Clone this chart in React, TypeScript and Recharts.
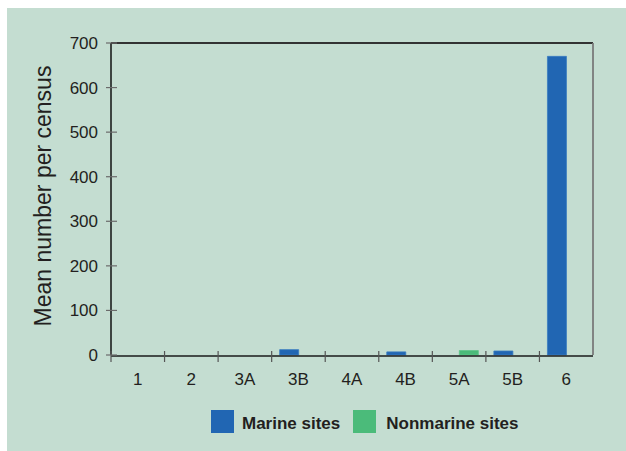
import React from 'react';
import { BarChart, Bar, XAxis, YAxis, Legend } from 'recharts';

const categories = ['1', '2', '3A', '3B', '4A', '4B', '5A', '5B', '6'];
const marineSites = [0, 0, 0, 12, 0, 7, 0, 9, 670];
const nonmarineSites = [0, 0, 0, 0, 0, 0, 10, 0, 0];
const yTicks = [0, 100, 200, 300, 400, 500, 600, 700];

const data = categories.map((cat, i) => ({
  cat,
  marine: marineSites[i],
  nonmarine: nonmarineSites[i],
}));

const FONT = '"Liberation Sans", Arial, Helvetica, sans-serif';
const TEXT = '#231f20';
const BLUE = '#2166b3';
const GREEN = '#4bbb7a';
const BG = '#c4ddd1';

const YTick = (props: any) => {
  const { x, y, payload } = props;
  return (
    <g>
      <line x1={x - 5} x2={x + 6} y1={y} y2={y} stroke="#6b6b6b" strokeWidth={1.2} />
      <text x={x - 13} y={y} dy="0.35em" textAnchor="end" fontSize={17} fontFamily={FONT} fill={TEXT}>
        {payload.value}
      </text>
    </g>
  );
};

// draws the tick mark on the left boundary of each category band
const BoundTick = (props: any) => {
  const { x, y, payload } = props;
  const half = payload && payload.offset ? payload.offset : 0;
  return <line x1={x - half} x2={x - half} y1={y - 5} y2={y + 6} stroke="#555" strokeWidth={1.2} />;
};

const XLabelTick = (props: any) => {
  const { x, y, payload } = props;
  return (
    <text x={x} y={y} dy={30} textAnchor="middle" fontSize={17} fontFamily={FONT} fill={TEXT}>
      {payload.value}
    </text>
  );
};

const YLabel = (props: any) => {
  const { viewBox } = props;
  const cx = 51;
  const cy = viewBox.y + viewBox.height / 2 - 3;
  return (
    <text
      x={cx}
      y={cy}
      textAnchor="middle"
      transform={`rotate(-90 ${cx} ${cy})`}
      fontSize={23}
      fontFamily={FONT}
      fill={TEXT}
    >
      Mean number per census
    </text>
  );
};

const LegendContent = () => (
  <div style={{ display: 'flex', alignItems: 'center', fontFamily: FONT, fontWeight: 700, fontSize: 17, color: TEXT, whiteSpace: 'nowrap' }}>
    <div style={{ width: 23, height: 23, background: BLUE }} />
    <span style={{ marginLeft: 8, position: 'relative', top: 2 }}>Marine sites</span>
    <div style={{ width: 23, height: 23, background: GREEN, marginLeft: 13 }} />
    <span style={{ marginLeft: 10, position: 'relative', top: 2 }}>Nonmarine sites</span>
  </div>
);

export default function App() {
  return (
    <div style={{ position: 'absolute', left: 0, top: 0, width: 626, height: 451, background: '#fff' }}>
      <div style={{ position: 'absolute', left: 7, top: 8, width: 619, height: 443, background: BG }} />
      <div style={{ position: 'absolute', left: 0, top: 0 }}>
        <BarChart
          width={626}
          height={451}
          data={data}
          margin={{ top: 42, right: 32, bottom: 94, left: 0 }}
          barGap={0}
          barSize={19}
        >
          <XAxis
            xAxisId="bounds"
            dataKey="cat"
            interval={0}
            height={1}
            tickSize={0}
            tickMargin={0}
            tickLine={false}
            axisLine={{ stroke: '#1a1a1a', strokeWidth: 1.5 }}
            tick={<BoundTick />}
          />
          <XAxis
            dataKey="cat"
            height={1}
            tickSize={0}
            tickMargin={0}
            tickLine={false}
            axisLine={false}
            interval={0}
            tick={<XLabelTick />}
          />
          <XAxis
            xAxisId="top"
            orientation="top"
            dataKey="cat"
            height={1}
            tick={false}
            tickLine={false}
            axisLine={{ stroke: '#333', strokeWidth: 1.8 }}
          />
          <YAxis
            domain={[0, 700]}
            ticks={yTicks}
            interval={0}
            width={111}
            tickSize={0}
            tickMargin={0}
            tickLine={false}
            axisLine={{ stroke: '#111', strokeWidth: 1.5 }}
            tick={<YTick />}
            label={<YLabel />}
          />
          <YAxis
            yAxisId="right"
            orientation="right"
            domain={[0, 700]}
            width={1}
            tick={false}
            tickLine={false}
            axisLine={{ stroke: '#7a7a7a', strokeWidth: 1.8 }}
          />
          <Legend
            layout="vertical"
            align="center"
            verticalAlign="middle"
            wrapperStyle={{ top: 410, left: 211, width: 'auto', height: 23 }}
            content={<LegendContent />}
          />
          <Bar dataKey="marine" name="Marine sites" fill={BLUE} stroke="#3a7cc0" strokeWidth={0.8} isAnimationActive={false} />
          <Bar dataKey="nonmarine" name="Nonmarine sites" fill={GREEN} stroke="#5cc489" strokeWidth={0.8} isAnimationActive={false} />
        </BarChart>
      </div>
    </div>
  );
}
